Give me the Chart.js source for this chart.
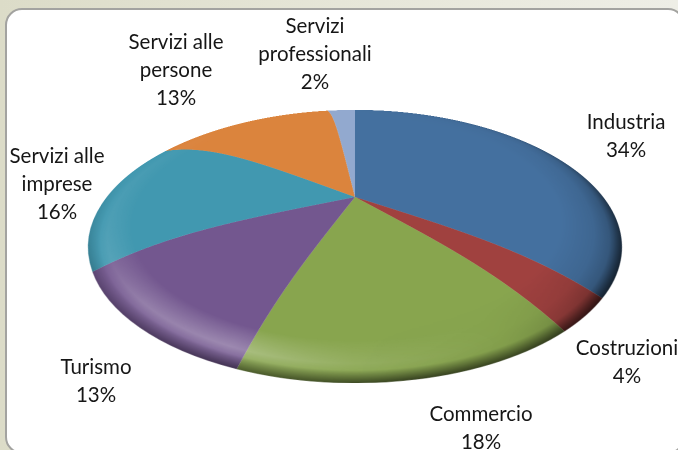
<!DOCTYPE html>
<html><head><meta charset="utf-8">
<style>
html,body{margin:0;padding:0;width:678px;height:450px;overflow:hidden;background:linear-gradient(90deg,#dcdcc8 0%,#e6e6d8 50%,#eeeee6 100%);}
#panel{position:absolute;left:5px;top:8px;width:680px;height:446px;box-sizing:border-box;background:#fff;border:2px solid #a3a3a0;border-radius:17px;}
#pie{position:absolute;left:0;top:0;width:678px;height:450px;}
.lab{position:absolute;transform:translateX(-50%);text-align:center;font:20.5px/28px Lato,sans-serif;color:#161616;white-space:nowrap;}
</style></head>
<body>
<div id="panel"></div>
<canvas id="pie" width="678" height="450"></canvas>
<script src="https://cdn.jsdelivr.net/npm/chart.js@4"></script>
<script>
const categories=["Industria","Costruzioni","Commercio","Turismo","Servizi alle imprese","Servizi alle persone","Servizi professionali"];
const shares=[34,4,18,13,16,13,2];
const sliceColors=["#44709f","#a0413f","#88a54e","#73578f","#4198b0","#db843d","#92a9cf"];
const labelLines=[["Industria"],["Costruzioni"],["Commercio"],["Turismo"],["Servizi alle","imprese"],["Servizi alle","persone"],["Servizi","professionali"]];
const labelCenterX=[626,627,481,96,57,176,315];
const labelTopY=[106.5,332.5,398.5,352,140.5,26.5,10.5];

labelLines.forEach((lines,i)=>{
  const d=document.createElement('div');d.className='lab';
  d.style.left=labelCenterX[i]+'px';d.style.top=labelTopY[i]+'px';
  d.innerHTML=lines.concat([shares[i]+'%']).join('<br>');
  document.body.appendChild(d);
});

function conicMask(c,cx,cy,stops){
  const g=c.createConicGradient(-Math.PI/2,cx,cy);
  stops.forEach(s=>g.addColorStop(s[0]/360,'rgba(0,0,0,'+s[1]+')'));
  return g;
}
// view of the tilted, bevelled disc
const view={cx:355,cy:220,rx:267,ry:136,tilt:0.2,lift:23,liftPow:4};
const look={id:'look',afterDatasetsDraw(chart){
  const ctx=chart.ctx,arc=chart.getDatasetMeta(0).data[0];
  const cx=arc.x,cy=arc.y,R=arc.outerRadius,W=chart.width,H=chart.height;
  const off=document.createElement('canvas');off.width=W*2;off.height=H*2;
  const o=off.getContext('2d');o.scale(2,2);
  const layer=(rgb,radial,mask)=>{
    o.globalCompositeOperation='source-over';o.clearRect(0,0,W,H);
    const g=o.createRadialGradient(cx,cy,0,cx,cy,R);
    radial.forEach(s=>g.addColorStop(s[0],'rgba('+rgb+','+s[1]+')'));
    o.fillStyle=g;o.fillRect(0,0,W,H);
    o.globalCompositeOperation='destination-in';
    o.fillStyle=conicMask(o,cx,cy,mask);o.fillRect(0,0,W,H);
    ctx.save();ctx.setTransform(1,0,0,1,0,0);ctx.globalCompositeOperation='source-atop';ctx.drawImage(off,0,0,W*2,H*2);ctx.restore();
  };
  layer('255,255,255',[[0,0],[.84,0],[.93,.3],[.965,.1],[1,0]],
    [[0,0],[150,0],[180,.35],[205,1],[230,.8],[250,.35],[270,.2],[300,.1],[320,0],[360,0]]);
  layer('0,0,0',[[0,0],[.78,0],[.9,.09],[.97,.26],[1,.42]],
    [[0,0],[50,.3],[85,1],[125,1],[150,.2],[180,0],[360,0]]);
  layer('0,0,0',[[0,0],[.955,0],[.985,.4],[1,.6]],
    [[0,0],[70,.2],[110,.8],[170,1],[205,.7],[240,.4],[270,.15],[290,0],[360,0]]);

  // re-project the finished disc through the view above
  const scale=2,BW=W*scale,BH=H*scale;
  const src=ctx.getImageData(0,0,BW,BH),s=src.data,out=ctx.createImageData(BW,BH),t=out.data;
  const a=view.tilt,Rc=view.ry*(1-a*a),Rx=view.rx*Math.sqrt(1-a*a);
  const rad=R*scale,scx=cx*scale,scy=cy*scale;
  for(let py=0;py<BH;py++){
    const Y=(py+.5)/scale;
    if(Y<view.cy-view.ry-40||Y>view.cy+view.ry+40)continue;
    for(let px=0;px<BW;px++){
      const X=(px+.5)/scale;
      if(Math.abs(X-view.cx)>view.rx+2)continue;
      let L=view.lift*.5,u=0,v=0,r=0;
      for(let k=0;k<14;k++){
        const w=Y+L-view.cy;
        v=w/(Rc+a*w);
        u=(X-view.cx)*(1-a*v)/Rx;
        r=Math.hypot(u,v);
        const g=r>=1?0:1-Math.pow(r,view.liftPow);
        L=.55*L+.45*view.lift*g;
      }
      if(r>1.01)continue;
      const sx=scx+u*rad-.5,sy=scy+v*rad-.5;
      const x0=Math.floor(sx),y0=Math.floor(sy),fx=sx-x0,fy=sy-y0;
      if(x0<0||y0<0||x0+1>=BW||y0+1>=BH)continue;
      let A=0,Rr=0,Gg=0,Bb=0;
      [[x0,y0,(1-fx)*(1-fy)],[x0+1,y0,fx*(1-fy)],[x0,y0+1,(1-fx)*fy],[x0+1,y0+1,fx*fy]].forEach(q=>{
        const i=(q[1]*BW+q[0])*4,al=s[i+3]*q[2];
        A+=al;Rr+=s[i]*al;Gg+=s[i+1]*al;Bb+=s[i+2]*al;
      });
      if(A<=0)continue;
      const j=(py*BW+px)*4;
      t[j]=Rr/A;t[j+1]=Gg/A;t[j+2]=Bb/A;t[j+3]=A;
    }
  }
  ctx.putImageData(out,0,0);
}};
new Chart(document.getElementById('pie'),{
  type:'pie',
  data:{labels:categories,datasets:[{data:shares,backgroundColor:sliceColors,borderWidth:0,hoverOffset:0}]},
  options:{responsive:false,animation:false,devicePixelRatio:2,rotation:0,events:[],
    layout:{padding:0},
    plugins:{legend:{display:false},tooltip:{enabled:false}}},
  plugins:[look]
});
</script>
</body></html>
